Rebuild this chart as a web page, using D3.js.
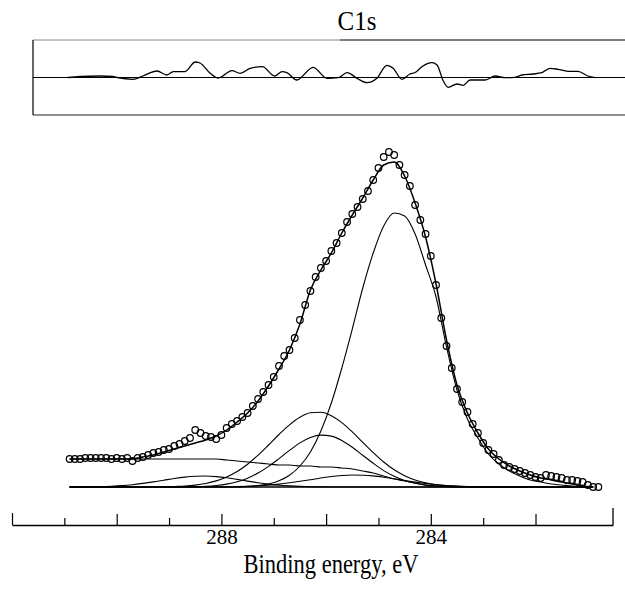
<!DOCTYPE html>
<html>
<head>
<meta charset="utf-8">
<script src="https://cdn.jsdelivr.net/npm/d3@7"></script>
<style>
  body { margin: 0; background: #fff; }
  svg { display: block; }
  text { font-family: "Liberation Serif", "Times New Roman", serif; fill: #000; }
</style>
</head>
<body>
<div id="chart"></div>
<script>
// C1s spectrum, binding energy in eV, intensity in a.u.
var dataEnergy = [290.9,290.8,290.7,290.6,290.5,290.4,290.3,290.2,290.1,290.0,289.9,289.8,289.7,289.6,289.5,289.4,289.3,289.2,289.1,289.0,
    288.9,288.8,288.7,288.6,288.5,288.4,288.3,288.2,288.1,288.0,287.9,287.8,287.7,287.6,287.5,287.4,287.3,287.2,287.1,287.0,
    286.9,286.8,286.7,286.6,286.5,286.4,286.3,286.2,286.1,286.0,285.9,285.8,285.7,285.6,285.5,285.4,285.3,285.2,285.1,285.0,
    284.9,284.8,284.7,284.6,284.5,284.4,284.3,284.2,284.1,284.0,283.9,283.8,283.7,283.6,283.5,283.4,283.3,283.2,283.1,283.0,
    282.9,282.8,282.7,282.6,282.5,282.4,282.3,282.2,282.1,282.0,281.9,281.8,281.7,281.6,281.5,281.4,281.3,281.2,281.1,281.0,
    280.9,280.8];
var dataCounts = [28,28,28,29,29,29,29,29,28,29, 28,29,26,29,30,32,34,35,37,38,
    41,43,46,49,57,54,51,50,48,52, 59,63,66,70,74,81,88,95,102,110,
    121,131,137,149,167,182,196,210,219,226, 236,244,254,265,273,280,288,296,307,319,
    330,335,332,322,312,301,282,267,253,231, 202,169,141,119,98,85,75,63,54,44,
    37,33,27,22,20,18,16,14,12,10, 9,12,11,10,9,7,7,6,5,2,
    0,0];

// fitted curves sampled every 0.2 eV
var fitEnergy = [290.9,290.7,290.5,290.3,290.1,289.9,289.7,289.5,289.3,289.1,288.9,288.7,288.5,288.3,288.1,
    287.9,287.7,287.5,287.3,287.1,286.9,286.7,286.5,286.3,286.1,285.9,285.7,285.5,285.3,285.1,
    284.9,284.7,284.5,284.3,284.1,283.9,283.7,283.5,283.3,283.1,282.9,282.7,282.5,282.3,282.1,
    281.9,281.7,281.5,281.3,281.1,280.9];
var envelope = [28,28,28,28,28,28,28,30,32,35,38,41,44,47,51,57,65,74,86,101,118,137,163,197,217,
    234,254,272,289,307,322,325,311,284,250,203,147,102,74,54,38,28,21,16,12,9,7,5,3,1,0];
var background = [28,28,28,28,28,28,28,28,28,28,28,28,28,28,28,27,26,25,24,23,22,22,21,21,20,
    20,19,18,16,14,11,8,6,4,2,1,0.5,0,0,0,0,0,0,0,0,0,0,0,0,0,0];
var peakCC = [0,0,0,0,0,0,0,0,0,0,0,0,0,0,0,0,0,0.6,1.4,3,6.2,11.7,21,35,56,
    84,119,158,199,234,261,274,271,253,222,190,140,97,68,49,33,23,16,11,7,5,3,2,1,0.5,0];
var peakA = [0,0,0,0,0,0,0,0,0,0,0.5,1.0,1.9,3.5,6.1,10.0,15.5,22.8,31.8,42.0,52.5,62.2,69.8,74.2,74.7,
    71.3,64.4,55.1,44.7,34.4,25.0,17.2,11.3,7.0,4.1,2.3,1.2,0.6,0.3,0,0,0,0,0,0,0,0,0,0,0,0];
var peakB = [0,0,0,0,0,0,0,0,0,0,0,0,0.3,0.7,1.5,2.9,5.2,8.8,13.9,20.6,28.4,36.6,44.1,49.5,51.9,
    50.9,46.6,39.8,31.7,23.7,16.4,10.7,6.5,3.7,1.9,1.0,0.4,0.2,0,0,0,0,0,0,0,0,0,0,0,0,0];
var peakC = [0,0.1,0.2,0.4,0.8,1.4,2.3,3.6,5.1,6.8,8.5,9.9,10.8,11.0,10.4,9.2,7.6,5.9,4.3,2.9,1.8,1.1,0.6,0.3,0.1,
    0,0,0,0,0,0,0,0,0,0,0,0,0,0,0,0,0,0,0,0,0,0,0,0,0,0];
var peakD = [0,0,0,0,0,0,0,0,0,0,0,0,0,0,0,0.2,0.4,0.7,1.2,1.9,2.9,4.2,5.7,7.3,9.0,
    10.5,11.5,12.0,11.8,11.1,9.8,8.2,6.5,4.9,3.5,2.4,1.5,0.9,0.5,0.3,0,0,0,0,0,0,0,0,0,0,0];

// residual of the fit
var residEnergy = [290.93,290.70,290.32,290.07,289.99,289.69,289.50,289.23,289.04,288.92,288.70,288.50,288.41,288.22,288.06,
    287.80,287.64,287.45,287.22,286.98,286.84,286.75,286.56,286.25,285.98,285.77,285.60,285.41,285.22,285.03,
    284.84,284.72,284.55,284.40,284.30,284.17,283.98,283.88,283.77,283.67,283.50,283.38,283.25,282.96,282.77,
    282.58,282.39,282.26,282.05,281.88,281.72,281.57,281.38,281.19,281.00,280.86];
var residValue = [0,2,3,2,0,-3.6,3,13,5,11.6,11.6,31,29,9,-1,
    13.6,8.4,18.4,21.6,3,11.6,9.6,-5,20.4,-1.6,-0.4,9.6,-1.6,-10.4,-1.6,
    24.4,18.4,-3.6,7,10,21.6,29.6,25,-5,-19.6,-13,-15.6,-5,-5,3,
    -0.4,0.4,5,7,9.6,18.4,16.4,12.4,12.4,3,-0.4];

var tickEnergies = [292,291,290,289,288,287,286,285,284,283,282];
var tickLabels = [288, 284];

var W = 625, H = 594;

var svg = d3.select("#chart").append("svg")
    .attr("width", W)
    .attr("height", H);

var x = d3.scaleLinear().domain([292, 280.52]).range([12, 613]);
var y = d3.scaleLinear().domain([0, 350]).range([487, 137]);
var yRes = d3.scaleLinear().domain([-75, 75]).range([115, 40]);

// title
svg.append("text")
    .attr("transform", "translate(357,30) scale(1,1.08)")
    .attr("text-anchor", "middle")
    .style("font-size", "25px")
    .text("C1s");

// residual panel
var res = svg.append("g").attr("class", "resid");
res.append("line")
    .attr("x1", 33).attr("x2", 340).attr("y1", yRes(75)).attr("y2", yRes(75))
    .attr("stroke", "#888").attr("stroke-width", 1);
res.append("line")
    .attr("x1", 340).attr("x2", W).attr("y1", yRes(75)).attr("y2", yRes(75))
    .attr("stroke", "#000").attr("stroke-width", 1.2);
res.append("line")
    .attr("x1", 33).attr("x2", W).attr("y1", yRes(-75)).attr("y2", yRes(-75))
    .attr("stroke", "#222").attr("stroke-width", 1.2);
res.append("line")
    .attr("x1", 33).attr("x2", 33).attr("y1", yRes(75)).attr("y2", yRes(-75))
    .attr("stroke", "#000").attr("stroke-width", 1.2);
res.append("line")
    .attr("x1", 33).attr("x2", W).attr("y1", yRes(0)).attr("y2", yRes(0))
    .attr("stroke", "#000").attr("stroke-width", 1.2);

var residLine = d3.line()
    .x(function(d, i) { return x(residEnergy[i]); })
    .y(function(d) { return yRes(d); })
    .curve(d3.curveMonotoneX);

res.append("path")
    .datum(residValue)
    .attr("d", residLine)
    .attr("fill", "none")
    .attr("stroke", "#000")
    .attr("stroke-width", 1.3);

// main spectrum
var fitLine = d3.line()
    .x(function(d, i) { return x(fitEnergy[i]); })
    .y(function(d) { return y(d); })
    .curve(d3.curveMonotoneX);

var g = svg.append("g").attr("class", "spectrum");

// zero line
g.append("path")
    .datum(fitEnergy.map(function() { return 0; }))
    .attr("d", fitLine)
    .attr("fill", "none")
    .attr("stroke", "#000")
    .attr("stroke-width", 1.3);

[peakC, peakD, peakB, peakA, peakCC, background].forEach(function(s) {
    g.append("path")
        .datum(s)
        .attr("d", fitLine)
        .attr("fill", "none")
        .attr("stroke", "#000")
        .attr("stroke-width", 1.1);
});

g.append("path")
    .datum(envelope)
    .attr("d", fitLine)
    .attr("fill", "none")
    .attr("stroke", "#000")
    .attr("stroke-width", 1.5);

g.selectAll("circle")
    .data(dataCounts)
    .enter()
    .append("circle")
    .attr("cx", function(d, i) { return x(dataEnergy[i]); })
    .attr("cy", function(d) { return y(d); })
    .attr("r", 3.3)
    .attr("fill", "none")
    .attr("stroke", "#000")
    .attr("stroke-width", 1.2);

// x axis, ticks pointing up
var xAxis = d3.axisBottom(x)
    .tickValues(tickEnergies)
    .tickSizeInner(-7)
    .tickSizeOuter(0)
    .tickPadding(4)
    .tickFormat(function(d) { return tickLabels.indexOf(d) >= 0 ? d : ""; });

var ax = svg.append("g")
    .attr("transform", "translate(0,525)")
    .call(xAxis);

ax.select(".domain").attr("stroke-width", 1.3);
ax.selectAll(".tick line")
    .attr("stroke-width", 1.2)
    .attr("y2", function(d) { return d === 292 ? -12 : (d % 2 === 0 ? -11 : -7); });
ax.selectAll(".tick text")
    .style("font-size", "21px")
    .style("font-family", "'Liberation Serif', 'Times New Roman', serif");

ax.append("line")
    .attr("x1", x.range()[1]).attr("x2", x.range()[1])
    .attr("y1", 0).attr("y2", -17)
    .attr("stroke", "#000")
    .attr("stroke-width", 1.3);

// axis title
svg.append("text")
    .attr("transform", "translate(331,573) scale(1,1.18)")
    .attr("text-anchor", "middle")
    .style("font-size", "22.5px")
    .text("Binding energy, eV");
</script>
</body>
</html>
